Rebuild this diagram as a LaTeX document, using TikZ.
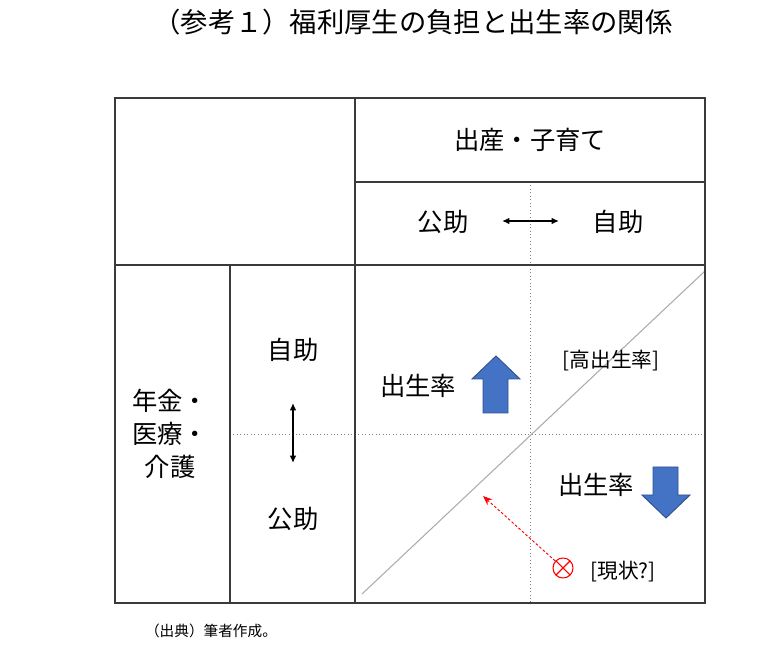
\documentclass[tikz,border=0pt]{standalone}
\usepackage{fontspec}
\setmainfont{Noto Sans CJK JP}
\usetikzlibrary{arrows.meta}
\definecolor{frame}{HTML}{3A3A3A}
\definecolor{blockblue}{HTML}{4472C4}
\definecolor{blockedge}{HTML}{2F528F}
\begin{document}
\begin{tikzpicture}[x=.75pt,y=-.75pt,
  grid/.style={draw=frame,line width=1pt},
  guide/.style={draw=gray,dotted,line width=.6pt},
  txt/.style={font=\fontsize{19}{25}\selectfont,inner sep=0pt},
  tag/.style={font=\fontsize{15.5}{18}\selectfont,inner sep=0pt},
  both/.style={{Latex[length=5.5pt,width=5pt]}-{Latex[length=5.5pt,width=5pt]},line width=1.2pt},
  block/.style={fill=blockblue,draw=blockedge,line width=.7pt}]
\useasboundingbox (0,0) rectangle (769,648);
\node[font=\fontsize{20.5}{24}\selectfont,inner sep=0pt] (title) at (413,22) {（参考１）福利厚生の負担と出生率の関係};
\draw[guide] (530,182) -- (530,603);
\draw[guide] (230,434) -- (705,434);
\draw[gray!65,line width=.8pt] (362,594) -- (705,271);
\draw[grid] (115,98) rectangle (705,603);
\draw[grid] (355,98) -- (355,603);
\draw[grid] (115,265) -- (705,265);
\draw[grid] (355,182) -- (705,182);
\draw[grid] (230,265) -- (230,603);
\node[txt] (care) at (530,140) {出産・子育て};
\node[txt] (pubT) at (443,222) {公助};
\node[txt] (selfT) at (618,222) {自助};
\coordinate (hA) at (502,221);
\coordinate (hB) at (559,221);
\draw[both] (hA) -- (hB);
\node[txt] (selfL) at (293,350) {自助};
\node[txt] (pubL) at (293,519) {公助};
\coordinate (vA) at (293,403);
\coordinate (vB) at (293,463);
\draw[both] (vA) -- (vB);
\node[txt,align=center] (pension) at (170,434) {年金・\\医療・\\介護};
\node[txt] (upRate) at (418,386) {出生率};
\filldraw[block] (496,356) -- (520,379) -- (508,379) -- (508,413) -- (483,413) -- (483,379) -- (472,379) -- cycle;
\node[tag] (highRate) at (611,361) {[高出生率]};
\node[txt] (downRate) at (596,485) {出生率};
\filldraw[block] (653,467) -- (678,467) -- (678,495) -- (690,495) -- (666,518) -- (642,495) -- (653,495) -- cycle;
\node[circle,draw=red,line width=.8pt,minimum size=15pt,inner sep=0pt,
  path picture={\draw[red,line width=.8pt] (path picture bounding box.north west) -- (path picture bounding box.south east) (path picture bounding box.north east) -- (path picture bounding box.south west);}] (now) at (563,568) {};
\node[tag] (status) at (623,572) {[現状?]};
\coordinate (aim) at (483,496);
\draw[red,line width=.7pt,dash pattern=on 2pt off 1.5pt,-{Stealth[length=7pt,width=5.5pt]}] (now) -- (aim);
\node[font=\fontsize{11}{13}\selectfont,inner sep=0pt] (source) at (211,631) {（出典）筆者作成。};
\end{tikzpicture}
\end{document}
